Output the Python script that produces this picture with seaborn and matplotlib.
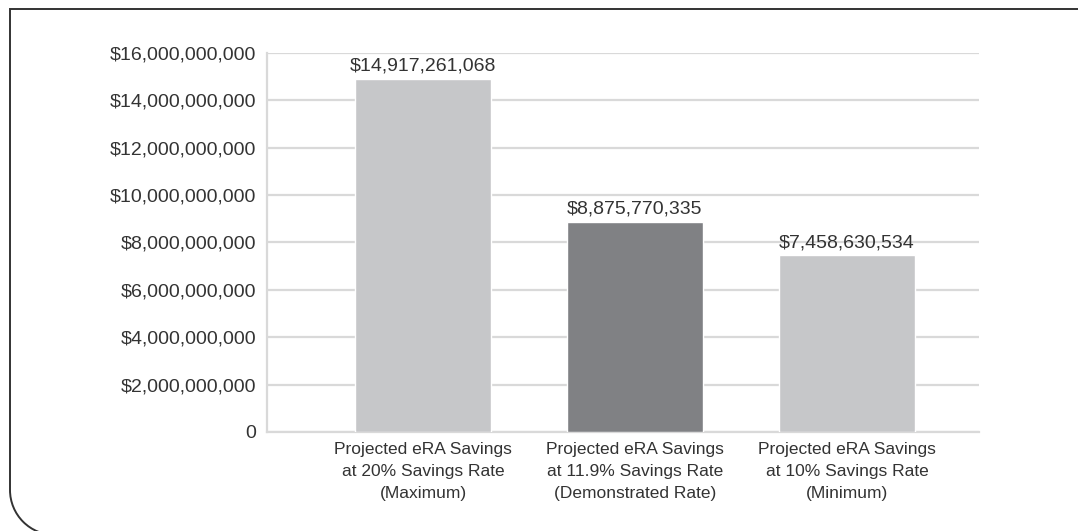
import matplotlib
matplotlib.use("Agg")
import matplotlib.pyplot as plt
import seaborn as sns
import pandas as pd
from matplotlib.path import Path
from matplotlib.patches import PathPatch, Arc

categories = [
    "Projected eRA Savings\nat 20% Savings Rate\n(Maximum)",
    "Projected eRA Savings\nat 11.9% Savings Rate\n(Demonstrated Rate)",
    "Projected eRA Savings\nat 10% Savings Rate\n(Minimum)",
]
values = [14917261068, 8875770335, 7458630534]
bar_colors = ["#c6c7c9", "#808184", "#c6c7c9"]
y_ticks = [0, 2e9, 4e9, 6e9, 8e9, 10e9, 12e9, 14e9, 16e9]

sns.set_theme(style="white")
plt.rcParams["font.family"] = ["Liberation Sans", "DejaVu Sans"]

W, H = 1078, 531
fig = plt.figure(figsize=(W / 100, H / 100), dpi=100)

ax = fig.add_axes([267 / W, (H - 432) / H, 712 / W, 379 / H])
df = pd.DataFrame({"cat": categories, "val": values})
sns.barplot(data=df, x="cat", y="val", hue="cat", palette=bar_colors,
            legend=False, width=0.64, saturation=1, ax=ax, zorder=3)

ax.set_xlim(-0.736, 2.623)
ax.set_ylim(0, 16e9)
ax.set_yticks(y_ticks)
ax.set_yticklabels(["0"] + [f"${v:,.0f}" for v in y_ticks[1:]])
ax.set_xlabel("")
ax.set_ylabel("")
ax.yaxis.grid(True, color="#d9d9d9", linewidth=1.6, zorder=0)
ax.set_axisbelow(True)
for s in ["top", "right"]:
    ax.spines[s].set_visible(False)
for s in ["left", "bottom"]:
    ax.spines[s].set_visible(True)
    ax.spines[s].set_color("#d9d9d9")
    ax.spines[s].set_linewidth(1.6)
ax.tick_params(axis="y", length=0, pad=8, labelsize=14, labelcolor="#333333")
ax.tick_params(axis="x", length=0, pad=7, labelsize=12.5, labelcolor="#333333")
for lbl in ax.get_xticklabels():
    lbl.set_linespacing(1.6)

for i, v in enumerate(values):
    ax.annotate(f"${v:,.0f}", (i, v), xytext=(0, 3), textcoords="offset points",
                ha="center", va="bottom", fontsize=14, color="#333333")

# frame with rounded bottom-left corner (in figure pixel coords, origin bottom-left)
r = 45
x0, y0 = 10, H - 9
yc = H - 490
verts = [(W + 5, y0), (x0, y0), (x0, yc)]
codes = [Path.MOVETO, Path.LINETO, Path.LINETO]
frame = PathPatch(Path(verts, codes), fill=False, edgecolor="#333333",
                  linewidth=1.4, transform=None, figure=fig)
fig.patches.append(frame)
arc = Arc((x0 + r, yc), 2 * r, 2 * r, theta1=180, theta2=270,
          edgecolor="#333333", linewidth=1.4, transform=None, figure=fig)
fig.patches.append(arc)

fig.savefig("out.png", dpi=100)
